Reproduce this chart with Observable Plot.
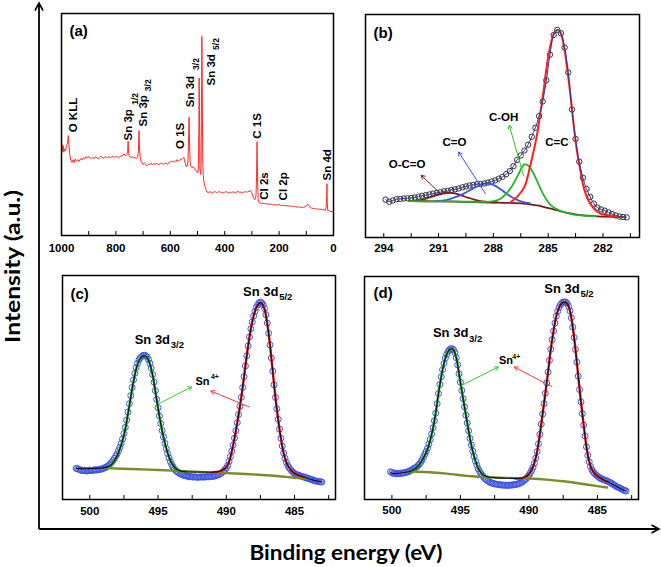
<!DOCTYPE html>
<html><head><meta charset="utf-8">
<script src="https://cdn.jsdelivr.net/npm/d3@7"></script>
<script src="https://cdn.jsdelivr.net/npm/@observablehq/plot@0.6"></script>
<style>
html,body{margin:0;padding:0;background:#fff;}
#fig{position:relative;width:661px;height:567px;overflow:hidden;background:#fff;}
</style></head><body><div id="fig"></div>
<script>
// ---------- (a) survey spectrum [binding energy eV, intensity a.u.] ----------
const surveySpectrum = [[1000,39.5],[998,41],[996,38],[994,40.5],[992,37.5],[990,39],[986,38],[982,40],[978,41.5],[975,45],[973,41],[970,37],[966,34],[962,33],[958,34],[954,32.8],[950,34.5],[945,33.5],[940,34.2],[935,33.4],[930,34.6],[925,34],[920,35],[915,34.4],[910,35.6],[905,34.8],[900,35.6],[895,35],[890,34.6],[885,35.2],[880,34.6],[875,35.5],[870,35],[865,34.4],[860,35.2],[855,35.8],[850,35],[845,34.8],[840,35.6],[835,35],[830,35.2],[825,35.6],[820,34.9],[815,35.5],[810,35.7],[805,35],[800,35.6],[795,35.4],[790,35],[785,35.6],[780,35.8],[775,36],[770,36.8],[765,36],[760,36.4],[757,38],[755,42.5],[753,37],[750,35.5],[745,35],[740,35.6],[735,34.8],[730,35.2],[725,34.6],[720,35.2],[717,38],[715,47.3],[713,39],[710,34],[705,33],[700,32],[695,32.6],[690,31.8],[685,31.4],[680,32.2],[675,32],[670,32.6],[665,31.8],[660,32.5],[655,32],[650,32.6],[645,31.9],[640,32.2],[635,32.6],[630,32.4],[625,31.9],[620,32.6],[615,32.5],[610,32],[605,33],[600,33.2],[595,33.6],[590,33],[585,33.6],[580,33.1],[575,34.2],[570,33.5],[565,34],[560,34.3],[555,34.6],[550,35.2],[548,34.2],[545,32.4],[542,31],[538,31.2],[535,33.5],[533,42],[531,53.3],[529,40],[527,33],[524,31],[520,30.6],[515,31],[510,30],[505,29.2],[500,28.2],[497,29.5],[495,48],[494,71],[493,58],[491,30],[489,27.5],[487,30],[485,68],[484,89.6],[483,78],[481,35],[479,27],[477,25],[475,23.2],[472,22],[470,21],[467,20.2],[465,19.6],[460,19.3],[455,19.8],[450,19.4],[445,19.1],[440,19.6],[435,19.8],[430,19.2],[425,19.5],[420,19.9],[415,19.3],[410,19.6],[405,19.2],[400,19.5],[395,19.8],[390,19.4],[385,19.1],[380,19.6],[375,19.3],[370,19.7],[365,19.4],[360,19.2],[355,19.6],[350,19.9],[345,19.4],[340,19.6],[335,19.2],[330,19.5],[325,19.8],[320,19.5],[315,19.7],[310,19.9],[305,20.2],[300,19.3],[296,17.6],[293,16.6],[290,16.1],[287,16.6],[285,18],[283,26],[281,42.3],[279,24],[277,16],[275,15],[270,14.6],[265,14.4],[260,14.6],[255,14.3],[250,14.4],[245,14.1],[240,14.2],[235,14],[230,14.2],[225,13.9],[220,14],[215,13.7],[210,13.9],[205,13.6],[200,14.1],[195,13.6],[190,13.5],[185,13.6],[180,13.4],[175,13.5],[170,13.3],[165,13.4],[160,13.2],[155,13.1],[150,13.2],[145,12.9],[140,13],[135,12.8],[130,12.9],[125,12.7],[120,12.8],[115,12.6],[110,12.8],[105,12.9],[100,13.4],[95,14.1],[90,13.5],[85,12.6],[80,12.3],[75,12.2],[70,12],[65,12.1],[60,11.9],[55,11.8],[50,11.9],[45,11.7],[40,11.6],[35,11.6],[30,11.4],[27,12.5],[25,18],[24,23.3],[23,15],[21,11.2],[18,11.2],[15,11],[10,10.9],[5,10.8],[0,10.7]];
const surveyTicks = [1000,800,600,400,200,0];
const surveyMinor = [1000,900,800,700,600,500,400,300,200,100,0];

// ---------- (b) C 1s ----------
const c1sData = [[293.9,17.0],[293.7,16.0],[293.5,16.6],[293.3,17.2],[293.1,17.3],[292.9,17.5],[292.7,17.6],[292.5,17.7],[292.3,17.9],[292.1,18.3],[291.9,18.7],[291.7,19.0],[291.5,19.3],[291.3,19.7],[291.1,20.0],[290.9,20.3],[290.7,20.7],[290.5,20.9],[290.3,21.3],[290.1,21.6],[289.9,22.0],[289.7,22.5],[289.5,22.9],[289.3,23.3],[289.1,23.6],[288.9,23.9],[288.7,24.0],[288.5,24.2],[288.3,24.6],[288.1,25.1],[287.9,25.6],[287.7,26.4],[287.5,27.2],[287.3,28.4],[287.1,29.8],[286.9,32.0],[286.7,34.8],[286.5,36.8],[286.3,39.0],[286.1,41.6],[285.9,45.2],[285.7,49.2],[285.5,54.4],[285.3,61.0],[285.1,70.5],[284.9,82.0],[284.7,90.8],[284.5,93.1],[284.3,91.6],[284.1,85.2],[283.9,74.0],[283.7,57.4],[283.5,44.2],[283.3,34.0],[283.1,26.8],[282.9,21.8],[282.7,18.2],[282.5,15.2],[282.3,13.4],[282.1,12.6],[281.9,12.0],[281.7,11.3],[281.5,10.5],[281.3,9.9],[281.1,9.4],[280.9,9.2],[280.7,9.0]];
const c1sBackground = [[292.6,16.3],[291.0,16.2],[289.6,16.0],[288.2,15.7],[287.1,15.5],[286.0,14.9],[285.5,14.3],[285.1,13.4],[284.6,12.4],[284.2,11.5],[283.7,10.7],[283.2,10.0],[282.3,9.5],[280.9,9.2]];
const c1sOCO = [[292.6,16.3],[292.2,16.5],[291.8,17.1],[291.4,18.2],[291.0,19.3],[290.6,20.1],[290.2,19.9],[289.8,19.0],[289.4,17.9],[289.0,16.9],[288.6,16.2],[288.2,15.9],[287.8,15.8]];
const c1sCO = [[291.2,16.2],[290.8,16.5],[290.4,17.2],[290.0,18.3],[289.6,19.8],[289.2,21.6],[288.8,23.2],[288.4,24.2],[288.0,23.6],[287.6,21.6],[287.2,19.2],[286.8,17.2],[286.4,16.0],[286.0,15.4]];
const c1sCOH = [[292.6,16.3],[291.0,16.2],[289.5,16.1],[288.5,16.0],[288.0,16.3],[287.6,17.4],[287.3,19.6],[287.0,22.8],[286.8,25.6],[286.6,28.8],[286.4,32.0],[286.3,32.8],[286.1,32.3],[285.9,30.2],[285.7,27.0],[285.5,23.4],[285.3,19.9],[285.1,17.0],[284.9,14.9],[284.6,13.0],[284.2,11.6],[283.8,10.6],[283.4,10.0],[283.0,9.7],[282.4,9.5]];
const c1sCC = [[287.1,15.6],[286.7,18.2],[286.3,22.7],[286.0,31.6],[285.6,46.6],[285.25,66.0],[285.0,80.9],[284.7,91.3],[284.52,93.1],[284.34,92.1],[284.16,86.8],[283.97,76.4],[283.79,64.5],[283.61,51.0],[283.43,39.1],[283.24,30.1],[283.06,22.7],[282.8,16.7],[282.5,13.0],[282.15,10.7],[281.8,10.0],[281.25,9.2],[280.9,9.2]];
const c1sTicks = [294,291,288,285,282];
const c1sMinor = [294,292.5,291,289.5,288,286.5,285,283.5,282,280.5];

// ---------- (c) Sn 3d ----------
const snCData = [[501.0,13.9],[500.9,13.7],[500.8,13.5],[500.7,13.2],[500.6,13.0],[500.5,12.9],[500.4,13.1],[500.3,12.8],[500.2,12.7],[500.1,13.0],
[500.0,13.1],[499.9,13.0],[499.8,12.9],[499.7,13.2],[499.6,13.3],[499.5,13.1],[499.4,13.3],[499.3,13.4],[499.2,13.5],[499.1,13.7],
[499.0,13.9],[498.9,14.2],[498.8,14.5],[498.7,14.8],[498.6,15.3],[498.5,15.9],[498.4,16.6],[498.3,17.4],[498.2,18.3],[498.1,19.3],
[498.0,20.4],[497.9,21.8],[497.8,23.3],[497.7,25.0],[497.6,27.0],[497.5,29.4],[497.4,32.2],[497.3,35.4],[497.2,39.0],[497.1,42.8],
[497.0,46.4],[496.9,50.0],[496.8,53.4],[496.7,56.3],[496.6,58.9],[496.5,60.8],[496.4,62.3],[496.3,63.3],[496.2,63.9],[496.1,64.3],
[496.0,64.4],[495.9,64.2],[495.8,63.6],[495.7,62.5],[495.6,60.8],[495.5,58.6],[495.4,55.8],[495.3,52.4],[495.2,48.6],[495.1,44.7],
[495.0,41.0],[494.9,37.3],[494.8,33.9],[494.7,30.8],[494.6,27.9],[494.5,25.1],[494.4,22.7],[494.3,20.5],[494.2,18.6],[494.1,17.0],
[494.0,15.6],[493.9,14.5],[493.8,13.6],[493.7,12.9],[493.6,12.4],[493.5,12.0],[493.4,11.6],[493.3,11.3],[493.2,11.0],[493.1,10.8],
[493.0,10.6],[492.9,10.5],[492.8,10.3],[492.7,10.2],[492.6,10.2],[492.5,10.1],[492.4,10.0],[492.3,10.1],[492.2,10.0],[492.1,9.9],
[492.0,10.0],[491.9,10.1],[491.8,10.0],[491.7,10.1],[491.6,10.0],[491.5,10.1],[491.4,10.2],[491.3,10.1],[491.2,10.2],[491.1,10.3],
[491.0,10.3],[490.9,10.4],[490.8,10.6],[490.7,10.8],[490.6,11.0],[490.5,11.3],[490.4,11.6],[490.3,12.1],[490.2,12.7],[490.1,13.3],
[490.0,14.1],[489.9,15.2],[489.8,17.0],[489.7,19.2],[489.6,21.6],[489.5,24.3],[489.4,27.4],[489.3,30.7],[489.2,34.3],[489.1,37.9],
[489.0,41.6],[488.9,45.6],[488.8,50.0],[488.7,54.8],[488.6,59.6],[488.5,64.2],[488.4,68.6],[488.3,72.6],[488.2,76.2],[488.1,79.3],
[488.0,81.9],[487.9,84.0],[487.8,85.7],[487.7,87.0],[487.6,87.8],[487.5,88.1],[487.4,87.8],[487.3,86.9],[487.2,85.2],[487.1,82.5],
[487.0,78.8],[486.9,74.2],[486.8,69.0],[486.7,63.2],[486.6,57.3],[486.5,51.2],[486.4,45.6],[486.3,40.5],[486.2,35.8],[486.1,31.4],
[486.0,27.3],[485.9,23.8],[485.8,20.8],[485.7,18.4],[485.6,16.6],[485.5,15.2],[485.4,14.2],[485.3,13.4],[485.2,12.7],[485.1,12.1],
[485.0,11.6],[484.9,11.3],[484.8,11.0],[484.7,10.8],[484.6,10.6],[484.5,10.4],[484.4,10.2],[484.3,10.0],[484.2,9.8],[484.1,9.6],
[484.0,9.4],[483.9,9.2],[483.8,9.0],[483.7,8.8],[483.6,8.5],[483.5,8.3],[483.4,8.2],[483.3,8.1],[483.2,8.0],[483.1,7.9],[483.0,7.8]];
const snCEnvelope = [[501.0,13.9],[500.5,13.7],[500.0,13.8],[499.5,13.9],[499.0,14.1],[498.6,14.8],[498.3,16.4],[498.0,19.5],[497.8,22.6],[497.6,26.4],[497.4,31.5],[497.2,38.4],[497.0,45.6],[496.8,52.6],[496.6,58.3],[496.4,62.0],[496.2,63.8],[496.0,64.2],[495.8,63.4],[495.6,60.6],[495.4,55.6],[495.2,48.4],[495.0,40.8],[494.8,33.8],[494.6,27.8],[494.4,22.8],[494.2,19.0],[494.0,16.2],[493.7,13.8],[493.4,12.8],[493.0,12.4],[492.0,12.3],[491.0,12.2],[490.6,12.4],[490.3,13.0],[490.0,14.4],[489.8,16.8],[489.6,21.4],[489.4,27.2],[489.2,34.2],[489.0,41.6],[488.8,50.0],[488.6,59.6],[488.4,68.6],[488.2,76.2],[488.0,81.9],[487.8,85.7],[487.6,87.6],[487.5,87.9],[487.4,87.6],[487.2,85.0],[487.0,78.6],[486.8,69.0],[486.6,57.3],[486.4,45.6],[486.2,35.8],[486.0,27.3],[485.8,20.8],[485.6,16.6],[485.4,14.2],[485.2,12.7],[485.0,11.6],[484.6,10.6],[484.2,9.8],[483.8,9.0],[483.4,8.3],[483.0,7.8]];
const snC32 = [[498.8,14.3],[498.6,14.8],[498.3,16.4],[498.0,19.5],[497.8,22.6],[497.6,26.4],[497.4,31.5],[497.2,38.4],[497.0,45.6],[496.8,52.6],[496.6,58.3],[496.4,62.0],[496.2,63.8],[496.0,64.2],[495.8,63.4],[495.6,60.6],[495.4,55.6],[495.2,48.4],[495.0,40.8],[494.8,33.8],[494.6,27.8],[494.4,22.8],[494.2,19.0],[494.0,16.2],[493.7,13.8],[493.4,12.8],[493.0,12.5]];
const snC52 = [[491.0,12.2],[490.6,12.4],[490.3,13.0],[490.0,14.4],[489.8,16.8],[489.6,21.4],[489.4,27.2],[489.2,34.2],[489.0,41.6],[488.8,50.0],[488.6,59.6],[488.4,68.6],[488.2,76.2],[488.0,81.9],[487.8,85.7],[487.6,87.6],[487.5,87.9],[487.4,87.6],[487.2,85.0],[487.0,78.6],[486.8,69.0],[486.6,57.3],[486.4,45.6],[486.2,35.8],[486.0,27.3],[485.8,20.8],[485.6,16.6],[485.4,14.2],[485.2,12.7],[485.0,11.6],[484.6,10.6],[484.3,10.0]];
const snCBackground = [[498.7,14.0],[497.0,13.6],[495.0,13.2],[493.0,12.6],[491.0,12.1],[489.0,11.5],[487.0,10.8],[485.5,10.0],[484.2,9.3]];

// ---------- (d) Sn 3d ----------
const snDData = [[500.1,12.4],[500.0,12.1],[499.9,11.7],[499.8,11.9],[499.7,11.5],[499.6,11.6],[499.5,11.8],[499.4,11.6],[499.3,11.9],[499.2,11.8],
[499.1,12.0],[499.0,12.1],[498.9,12.3],[498.8,12.5],[498.7,12.8],[498.6,13.1],[498.5,13.5],[498.4,13.9],[498.3,14.2],[498.2,14.6],
[498.1,15.2],[498.0,15.8],[497.9,16.6],[497.8,17.7],[497.7,19.0],[497.6,20.3],[497.5,21.5],[497.4,23.0],[497.3,24.8],[497.2,26.9],
[497.1,29.4],[497.0,32.2],[496.9,35.3],[496.8,38.7],[496.7,43.0],[496.6,47.5],[496.5,51.6],[496.4,55.0],[496.3,58.2],[496.2,61.0],
[496.1,63.4],[496.0,65.1],[495.9,66.4],[495.8,67.2],[495.7,67.6],[495.6,67.6],[495.5,67.1],[495.4,65.8],[495.3,63.6],[495.2,60.4],
[495.1,56.4],[495.0,52.6],[494.9,48.9],[494.8,45.2],[494.7,41.5],[494.6,37.8],[494.5,34.3],[494.4,30.8],[494.3,27.4],[494.2,24.4],
[494.1,21.7],[494.0,19.4],[493.9,17.2],[493.8,15.4],[493.7,13.8],[493.6,12.6],[493.5,11.6],[493.4,10.8],[493.3,10.0],[493.2,9.3],
[493.1,8.8],[493.0,8.3],[492.9,7.9],[492.8,7.6],[492.7,7.4],[492.6,7.2],[492.5,7.0],[492.4,6.9],[492.3,6.8],[492.2,6.7],
[492.1,6.6],[492.0,6.5],[491.9,6.5],[491.8,6.4],[491.7,6.4],[491.6,6.3],[491.5,6.4],[491.4,6.4],[491.3,6.5],[491.2,6.5],
[491.1,6.6],[491.0,6.7],[490.9,6.8],[490.8,7.0],[490.7,7.2],[490.6,7.5],[490.5,7.8],[490.4,8.3],[490.3,8.8],[490.2,9.3],
[490.1,10.0],[490.0,10.9],[489.9,11.9],[489.8,13.1],[489.7,14.4],[489.6,16.2],[489.5,18.6],[489.4,21.5],[489.3,25.0],[489.2,29.2],
[489.1,33.8],[489.0,38.3],[488.9,43.0],[488.8,47.6],[488.7,52.3],[488.6,57.2],[488.5,62.4],[488.4,67.4],[488.3,71.7],[488.2,75.6],
[488.1,79.1],[488.0,82.2],[487.9,84.4],[487.8,86.1],[487.7,87.3],[487.6,88.1],[487.5,88.5],[487.4,88.6],[487.3,88.5],[487.2,87.9],
[487.1,86.6],[487.0,84.6],[486.9,81.5],[486.8,77.3],[486.7,72.6],[486.6,67.3],[486.5,61.6],[486.4,55.3],[486.3,49.3],[486.2,43.8],
[486.1,38.5],[486.0,33.4],[485.9,28.4],[485.8,23.6],[485.7,19.8],[485.6,16.9],[485.5,14.8],[485.4,13.3],[485.3,12.3],[485.2,11.6],
[485.1,11.0],[485.0,10.5],[484.9,10.0],[484.8,9.6],[484.7,9.3],[484.6,9.0],[484.5,8.8],[484.4,8.5],[484.3,8.3],[484.2,8.0],
[484.1,7.7],[484.0,7.4],[483.9,7.0],[483.8,6.6],[483.7,6.2],[483.6,5.8],[483.5,5.5],[483.4,5.2],[483.3,4.9],[483.2,4.6],
[483.1,4.3],[483.0,4.0],[482.9,3.8]];
const snDEnvelope = [[500.1,12.0],[499.8,11.6],[499.5,11.8],[499.0,12.2],[498.6,12.8],[498.3,13.8],[498.0,15.6],[497.7,18.6],[497.4,22.6],[497.2,26.6],[497.0,32.0],[496.8,38.8],[496.6,47.5],[496.4,55.0],[496.2,61.0],[496.0,65.1],[495.8,67.2],[495.65,67.6],[495.5,67.1],[495.3,63.6],[495.1,56.4],[494.9,48.9],[494.7,41.5],[494.5,34.3],[494.3,27.4],[494.1,21.7],[493.9,17.2],[493.7,14.0],[493.5,12.0],[493.3,10.9],[493.0,10.2],[492.5,9.8],[492.0,9.6],[491.5,9.5],[491.0,9.4],[490.6,9.5],[490.3,10.1],[490.0,11.3],[489.8,13.3],[489.6,16.4],[489.4,21.5],[489.2,29.2],[489.0,38.3],[488.8,47.6],[488.6,57.2],[488.4,67.4],[488.2,75.6],[488.0,82.2],[487.8,86.1],[487.6,88.0],[487.4,88.5],[487.2,87.8],[487.0,84.6],[486.8,77.3],[486.6,67.3],[486.4,55.3],[486.2,43.8],[486.0,33.4],[485.8,23.6],[485.6,17.0],[485.4,13.4],[485.2,11.6],[485.0,10.5],[484.6,9.0],[484.2,7.8],[483.8,6.5],[483.4,5.2],[483.0,4.0],[482.9,3.8]];
const snD32 = [[498.7,12.7],[498.3,13.8],[498.0,15.6],[497.7,18.6],[497.4,22.6],[497.2,26.6],[497.0,32.0],[496.8,38.8],[496.6,47.5],[496.4,55.0],[496.2,61.0],[496.0,65.1],[495.8,67.2],[495.65,67.6],[495.5,67.1],[495.3,63.6],[495.1,56.4],[494.9,48.9],[494.7,41.5],[494.5,34.3],[494.3,27.4],[494.1,21.7],[493.9,17.2],[493.7,14.0],[493.5,12.0],[493.3,10.9],[493.0,10.2]];
const snD52 = [[491.0,9.4],[490.6,9.5],[490.3,10.1],[490.0,11.3],[489.8,13.3],[489.6,16.4],[489.4,21.5],[489.2,29.2],[489.0,38.3],[488.8,47.6],[488.6,57.2],[488.4,67.4],[488.2,75.6],[488.0,82.2],[487.8,86.1],[487.6,88.0],[487.4,88.5],[487.2,87.8],[487.0,84.6],[486.8,77.3],[486.6,67.3],[486.4,55.3],[486.2,43.8],[486.0,33.4],[485.8,23.6],[485.6,17.0],[485.4,13.4],[485.2,11.6],[485.0,10.5],[484.6,9.0],[484.3,8.1]];
const snDBackground = [[498.7,12.7],[497.0,12.1],[496.0,11.6],[494.5,10.6],[493.5,10.1],[491.5,9.7],[490.0,9.4],[488.5,8.8],[487.5,8.2],[486.3,7.2],[485.0,6.0],[484.3,5.4]];
const snTicks = [500,495,490,485];
const snMinor = [500,497.5,495,492.5,490,487.5,485,482.5];

// ---------- annotations (data coordinates) ----------
const surveyLabels = [
  {be:957.4,v:46.5,t:"O KLL"},{be:755.7,v:42.8,t:"Sn 3p"},{be:699.2,v:49.1,t:"Sn 3p"},
  {be:564.9,v:39.0,t:"O 1S"},{be:528.2,v:57.8,t:"Sn 3d"},{be:448.6,v:67.6,t:"Sn 3d"},
  {be:281.0,v:43.6,t:"C 1S"},{be:253.1,v:16.1,t:"Cl 2s"},{be:185.6,v:15.8,t:"Cl 2p"},{be:24.2,v:24.8,t:"Sn 4d"}];
const surveySubs = [{be:730,v:58.9,t:"1/2"},{be:682.3,v:65.0,t:"3/2"},{be:506.2,v:74.6,t:"3/2"},{be:431.4,v:83.6,t:"5/2"}];
const c1sLabels = [{be:292.72,v:32.7,t:"O-C=O"},{be:290.13,v:42.8,t:"C=O"},{be:287.44,v:53.7,t:"C-OH"},{be:284.52,v:42.8,t:"C=C"}];
const c1sArrows = [
  {x1:290.94,y1:20.0,x2:291.95,y2:27.9,c:"#7a1a1a"},
  {x1:288.44,y1:19.7,x2:289.90,y2:38.3,c:"#3a55e8"},
  {x1:286.34,y1:27.6,x2:287.13,y2:50.3,c:"#33c233"}];
const snCLabels = {main:[{be:494.12,v:71.3},{be:486.18,v:92.6}], sub:[{be:494.07,v:68.8,t:"3/2"},{be:486.13,v:90.4,t:"5/2"}], sn:{be:491.74,v:52.9}, sup:{be:491.13,v:55.0},
  arrows:[{x1:494.93,y1:42.8,x2:492.55,y2:50.2,c:"#33cc33"},{x1:488.31,y1:41.3,x2:491.13,y2:48.4,c:"#ff3333"}]};
const snDLabels = {main:[{be:494.42,v:74.6},{be:486.29,v:94.5}], sub:[{be:494.37,v:72.2,t:"3/2"},{be:486.24,v:92.2,t:"5/2"}], sn:{be:491.67,v:62.4}, sup:{be:491.21,v:64.2},
  arrows:[{x1:494.90,y1:51.2,x2:492.23,y2:59.4,c:"#33cc33"},{x1:488.35,y1:50.7,x2:491.07,y2:59.4,c:"#ff3333"}]};

// ---------- drawing ----------
const FONT = "Liberation Sans, Arial, Helvetica, sans-serif";
const fig = document.getElementById("fig");
const X = d => d[0], Y = d => d[1];

// outer axes and titles
const outer = d3.select(fig).append("svg").attr("width",661).attr("height",567)
  .style("position","absolute").style("left","0px").style("top","0px");
outer.append("path").attr("d","M39,529V3.5M39,529H659").attr("stroke","#000").attr("stroke-width",1.8).attr("fill","none");
outer.append("path").attr("d","M35,10.5L39,3L43,10.5").attr("stroke","#000").attr("stroke-width",1.6).attr("fill","none");
outer.append("path").attr("d","M651.5,525L659,529L651.5,533").attr("stroke","#000").attr("stroke-width",1.6).attr("fill","none");
outer.append("text").text("Intensity (a.u.)").attr("transform","translate(20,266.5) rotate(-90)")
  .attr("text-anchor","middle").attr("font-family","Lato, Open Sans, sans-serif").attr("font-weight","bold").attr("font-size",20)
  .attr("textLength",153).attr("lengthAdjust","spacingAndGlyphs");
outer.append("text").text("Binding energy (eV)").attr("x",346).attr("y",560)
  .attr("text-anchor","middle").attr("font-family","Lato, Open Sans, sans-serif").attr("font-weight","bold").attr("font-size",20)
  .attr("textLength",193).attr("lengthAdjust","spacingAndGlyphs");

function panel({left, top, w, h, domain, ticks, minor, pad, letter, ldx, ldy, marks}) {
  const svg = Plot.plot({
    width: w + 24, height: h + 30,
    marginLeft: 12, marginRight: 12, marginTop: 6, marginBottom: 24,
    x: {domain, label: null},
    y: {domain: [0, 100], axis: null, label: null},
    style: {fontFamily: FONT, fontWeight: "bold", fontSize: "11.5px", background: "transparent", overflow: "visible", color: "black"},
    marks: [
      ...marks,
      Plot.tickX(minor, {x: d => d, insetTop: h - 4, stroke: "black", strokeWidth: 1}),
      Plot.axisX({ticks, label: null, tickSize: 0, tickPadding: pad, tickFormat: d => String(d), fontSize: 11.5, fontWeight: "bold", fill: "black"}),
      Plot.text([letter], {frameAnchor: "top-left", dx: ldx, dy: ldy, text: d => d, textAnchor: "start", lineAnchor: "top", fontSize: 15, fontWeight: "bold", fill: "black"}),
      Plot.frame({stroke: "black", strokeWidth: 1.5})
    ]
  });
  svg.style.position = "absolute";
  svg.style.left = (left - 12) + "px";
  svg.style.top = (top - 6) + "px";
  fig.appendChild(svg);
}

const txt = {fontWeight: "bold", fill: "black", fontFamily: FONT};

// (a)
panel({left: 61, top: 13, w: 272, h: 222, domain: [1000, 0], ticks: surveyTicks, minor: surveyMinor, pad: 8,
  letter: "(a)", ldx: 8, ldy: 12,
  marks: [
    Plot.line(surveySpectrum, {x: X, y: Y, stroke: "#ff2a2a", strokeWidth: 1}),
    Plot.text(surveyLabels, {x: "be", y: "v", text: "t", rotate: -90, textAnchor: "start", fontSize: 11.5, ...txt}),
    Plot.text(surveySubs, {x: "be", y: "v", text: "t", rotate: -90, textAnchor: "start", fontSize: 8.5, ...txt})
  ]});

// (b)
panel({left: 365, top: 14, w: 274, h: 223, domain: [295, 280], ticks: c1sTicks, minor: c1sMinor, pad: 6,
  letter: "(b)", ldx: 8, ldy: 12.5,
  marks: [
    Plot.dot(c1sData, {x: X, y: Y, r: 2.7, stroke: "#333", strokeWidth: 1, fill: "none"}),
    Plot.line(c1sBackground, {x: X, y: Y, stroke: "#7a1a1a", strokeWidth: 1.8, curve: "catmull-rom"}),
    Plot.line(c1sOCO, {x: X, y: Y, stroke: "#7a1a1a", strokeWidth: 1.8, curve: "catmull-rom"}),
    Plot.line(c1sCO, {x: X, y: Y, stroke: "#3a55e8", strokeWidth: 1.8, curve: "catmull-rom"}),
    Plot.line(c1sCOH, {x: X, y: Y, stroke: "#22b822", strokeWidth: 1.8, curve: "catmull-rom"}),
    Plot.line(c1sCC, {x: X, y: Y, stroke: "#ff1f1f", strokeWidth: 2, curve: "catmull-rom"}),
    Plot.line(c1sData, {x: X, y: Y, stroke: "#2a3aa8", strokeWidth: 1, curve: "catmull-rom"}),
    Plot.arrow(c1sArrows, {x1: "x1", y1: "y1", x2: "x2", y2: "y2", stroke: d => d.c, strokeWidth: 1, headLength: 6}),
    Plot.text(c1sLabels, {x: "be", y: "v", text: "t", textAnchor: "middle", fontSize: 11.5, ...txt})
  ]});

function snMarks(data, env, c32, c52, bg, L) {
  return [
    Plot.dot(data, {x: X, y: Y, r: 3, stroke: "#3f55e6", strokeWidth: 1, fill: "none"}),
    Plot.line(bg, {x: X, y: Y, stroke: "#7b8c28", strokeWidth: 2.4, curve: "catmull-rom"}),
    Plot.line(c32, {x: X, y: Y, stroke: "#1fa01f", strokeWidth: 2.4, curve: "catmull-rom"}),
    Plot.line(c52, {x: X, y: Y, stroke: "#e21f1f", strokeWidth: 2.4, curve: "catmull-rom"}),
    Plot.line(env, {x: X, y: Y, stroke: "#111", strokeWidth: 1.1, curve: "catmull-rom"}),
    Plot.arrow(L.arrows, {x1: "x1", y1: "y1", x2: "x2", y2: "y2", stroke: d => d.c, strokeWidth: 1, headLength: 6}),
    Plot.text(L.main, {x: "be", y: "v", text: () => "Sn 3d", textAnchor: "end", fontSize: 13, ...txt}),
    Plot.text(L.sub, {x: "be", y: "v", text: "t", textAnchor: "start", fontSize: 9.5, ...txt}),
    Plot.text([L.sn], {x: "be", y: "v", text: () => "Sn", textAnchor: "middle", fontSize: 11, ...txt}),
    Plot.text([L.sup], {x: "be", y: "v", text: () => "4+", textAnchor: "start", fontSize: 7, ...txt})
  ];
}

// (c)
panel({left: 62, top: 275, w: 273, h: 224, domain: [502, 482], ticks: snTicks, minor: snMinor, pad: 7,
  letter: "(c)", ldx: 8, ldy: 13,
  marks: snMarks(snCData, snCEnvelope, snC32, snC52, snCBackground, snCLabels)});

// (d)
panel({left: 364, top: 276, w: 274, h: 223, domain: [502, 482], ticks: snTicks, minor: snMinor, pad: 6,
  letter: "(d)", ldx: 9, ldy: 11,
  marks: snMarks(snDData, snDEnvelope, snD32, snD52, snDBackground, snDLabels)});
</script></body></html>
